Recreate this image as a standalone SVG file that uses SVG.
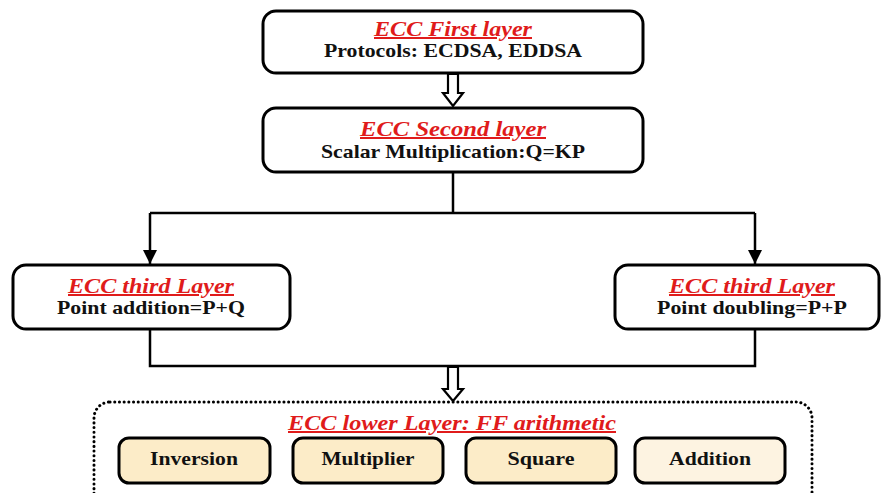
<svg xmlns="http://www.w3.org/2000/svg" width="883" height="493" viewBox="0 0 883 493">
<defs>
<style>
.box{fill:#fff;stroke:#000;stroke-width:3}
.fb{stroke:#000;stroke-width:3}
.t{font-family:"Liberation Serif","Times New Roman","DejaVu Serif",serif;font-weight:bold;font-style:italic;fill:#e01b1b;text-decoration:underline;text-anchor:middle;font-size:20px}
.s{font-family:"Liberation Serif","Times New Roman","DejaVu Serif",serif;font-weight:bold;fill:#111;text-anchor:middle;font-size:19px}
.ln{fill:none;stroke:#000;stroke-width:2.5}
.da{fill:#fff;stroke:#000;stroke-width:2.2;stroke-linejoin:miter}
</style>
<marker id="ah" markerWidth="14" markerHeight="14" refX="12" refY="6" orient="auto" markerUnits="userSpaceOnUse" viewBox="0 0 12 12">
<path d="M0,0 L12,6 L0,12 Z" fill="#000"/>
</marker>
</defs>
<rect width="883" height="493" fill="#fff"/>
<g id="connectors">
<path class="da" d="M448,74 V93 H443 L453,106 L463,93 H458 V74 Z"/>
<path class="ln" d="M453,172 V213"/>
<path class="ln" d="M150,213 H755"/>
<path class="ln" d="M150,213 V264" marker-end="url(#ah)"/>
<path class="ln" d="M755,213 V264" marker-end="url(#ah)"/>
<path class="ln" d="M150,330 V366 H755 V330"/>
<path class="da" d="M448,367 V389 H443 L453,401 L463,389 H458 V367 Z"/>
</g>
<g id="first">
<rect class="box" x="263" y="11" width="380" height="62" rx="13"/>
<text class="t" x="453" y="36" textLength="158" lengthAdjust="spacingAndGlyphs">ECC First layer</text>
<text class="s" x="453" y="57" textLength="258" lengthAdjust="spacingAndGlyphs">Protocols: ECDSA, EDDSA</text>
</g>
<g id="second">
<rect class="box" x="263" y="108" width="380" height="64" rx="13"/>
<text class="t" x="453" y="136" textLength="186" lengthAdjust="spacingAndGlyphs">ECC Second layer</text>
<text class="s" x="453" y="158" textLength="264" lengthAdjust="spacingAndGlyphs">Scalar Multiplication:Q=KP</text>
</g>
<g id="third-left">
<rect class="box" x="13" y="265" width="277" height="64" rx="13"/>
<text class="t" x="151" y="293" textLength="166" lengthAdjust="spacingAndGlyphs">ECC third Layer</text>
<text class="s" x="151" y="314" textLength="188" lengthAdjust="spacingAndGlyphs">Point addition=P+Q</text>
</g>
<g id="third-right">
<rect class="box" x="615" y="265" width="264" height="64" rx="13"/>
<text class="t" x="752" y="293" textLength="166" lengthAdjust="spacingAndGlyphs">ECC third Layer</text>
<text class="s" x="752" y="314" textLength="190" lengthAdjust="spacingAndGlyphs">Point doubling=P+P</text>
</g>
<g id="lower">
<rect x="94" y="402" width="718" height="110" rx="16" fill="none" stroke="#000" stroke-width="3" stroke-dasharray="0.1 4.6" stroke-linecap="round"/>
<text class="t" x="452" y="430" textLength="328" lengthAdjust="spacingAndGlyphs">ECC lower Layer: FF arithmetic</text>
</g>
<g id="inversion">
<rect class="fb" x="119" y="438" width="151" height="45" rx="10" fill="#fcecc8"/>
<text class="s" x="194" y="465" textLength="88" lengthAdjust="spacingAndGlyphs">Inversion</text>
</g>
<g id="multiplier">
<rect class="fb" x="293" y="438" width="150" height="45" rx="10" fill="#fcecc8"/>
<text class="s" x="368" y="465" textLength="93" lengthAdjust="spacingAndGlyphs">Multiplier</text>
</g>
<g id="square">
<rect class="fb" x="466" y="438" width="150" height="45" rx="10" fill="#fcecc8"/>
<text class="s" x="541" y="465" textLength="67" lengthAdjust="spacingAndGlyphs">Square</text>
</g>
<g id="addition">
<rect class="fb" x="635" y="438" width="150" height="45" rx="10" fill="#fdf3e1"/>
<text class="s" x="710" y="465" textLength="82" lengthAdjust="spacingAndGlyphs">Addition</text>
</g>
</svg>
